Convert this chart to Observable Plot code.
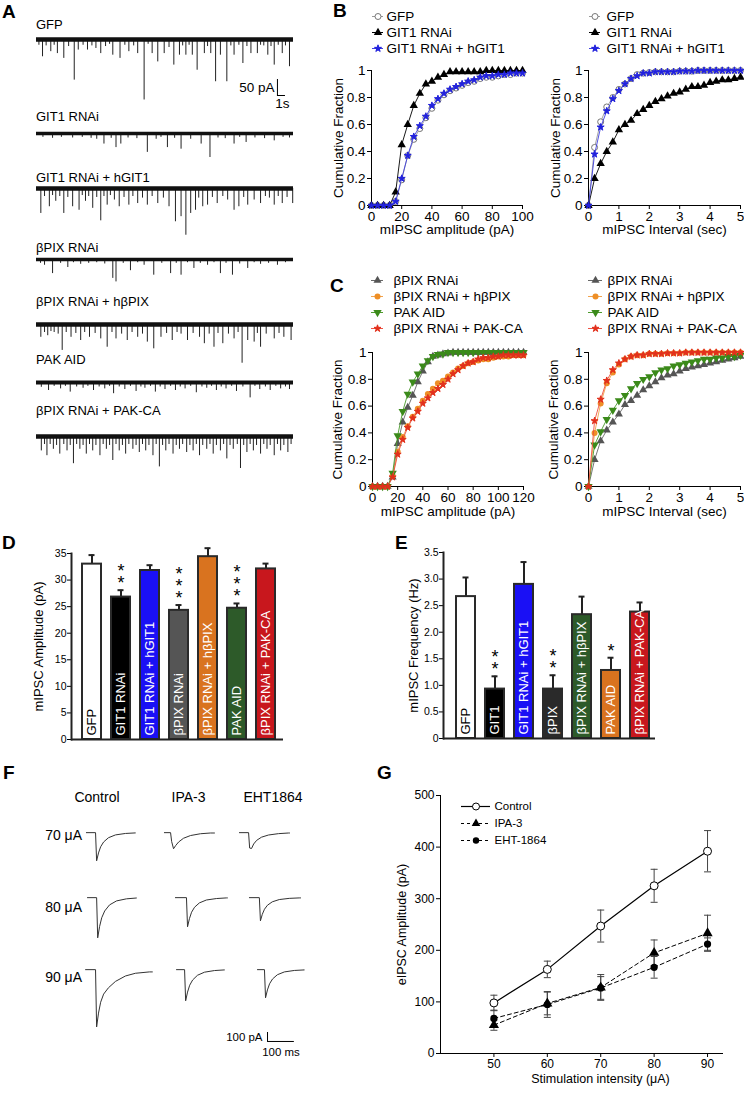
<!DOCTYPE html>
<html><head><meta charset="utf-8">
<script src="https://cdn.jsdelivr.net/npm/d3@7"></script>
<script src="https://cdn.jsdelivr.net/npm/@observablehq/plot@0.6"></script>
<style>
html,body{margin:0;padding:0;background:#fff;}
#fig{position:relative;width:744px;height:1093px;overflow:hidden;background:#fff;}
</style></head><body><div id="fig"></div>
<script>
// ---------------- DATA ----------------
// Panel A: mIPSC events per trace, [time (s), amplitude (pA)]
const aGFP = [[0.3,18],[0.75,54],[1.2,20],[1.78,38],[2.2,18],[2.6,44],[3.4,59],[4.0,22],[4.7,127],[5.2,33],[5.8,18],[6.35,33],[6.9,20],[7.4,28],[8.0,44],[8.6,22],[9.1,15],[9.5,49],[10.4,59],[11.0,18],[11.5,38],[12.1,20],[12.6,44],[13.4,189],[13.9,15],[14.4,44],[15.1,70],[15.9,44],[16.5,25],[17.1,80],[17.8,49],[18.2,20],[18.6,49],[19.0,18],[19.4,49],[20.0,96],[20.9,44],[21.3,22],[21.7,44],[22.3,132],[22.9,49],[23.7,132],[24.2,20],[24.6,49],[25.2,18],[25.7,75],[26.2,22],[26.7,44],[27.5,44],[27.9,18],[28.3,20],[28.8,49],[29.2,22],[29.6,80],[30.1,18],[30.6,44],[31.0,20],[31.5,85]];
const aGIT1 = [[0.8,12],[2.0,15],[3.1,12],[4.5,14],[5.7,12],[6.8,15],[7.5,18],[8.4,33],[9.3,15],[9.9,44],[10.5,33],[11.4,14],[12.5,16],[13.8,59],[14.9,18],[15.5,12],[16.3,44],[17.2,15],[18.0,49],[19.2,18],[20.5,33],[21.6,75],[22.6,14],[23.5,16],[24.6,33],[25.3,12],[26.1,28],[27.2,14],[28.4,16],[29.6,23],[30.7,12],[31.5,14]];
const aGIT1Rescue = [[0.54,78],[1.0,25],[1.6,57],[2.0,22],[2.4,40],[2.9,25],[3.4,78],[3.9,28],[4.5,57],[5.3,68],[5.7,22],[6.1,40],[6.5,25],[7.0,62],[7.5,28],[8.0,101],[8.4,25],[8.8,52],[9.2,22],[9.7,36],[10.3,57],[10.9,28],[11.5,52],[12.0,25],[12.6,47],[13.2,30],[13.8,52],[14.4,25],[15.1,47],[15.8,30],[16.5,57],[17.3,104],[18.0,88],[18.6,146],[19.2,78],[19.8,68],[20.2,30],[20.7,57],[21.3,52],[21.9,28],[22.5,47],[23.2,25],[23.8,36],[24.6,68],[25.2,57],[25.8,28],[26.3,52],[27.1,36],[27.9,47],[28.5,25],[29.0,30],[29.6,52],[30.1,25],[30.6,47],[31.2,28],[31.9,47]];
const aBPIX = [[0.5,12],[1.0,18],[2.0,44],[3.0,12],[3.9,25],[4.6,10],[5.5,15],[6.5,12],[7.5,10],[8.5,14],[9.5,59],[9.9,70],[10.8,12],[11.7,35],[12.6,10],[13.4,18],[14.6,49],[15.6,12],[16.7,44],[17.4,12],[18.0,49],[18.8,10],[19.6,28],[20.4,12],[21.3,18],[22.1,10],[22.9,44],[23.6,12],[24.4,49],[25.3,14],[26.3,28],[27.1,10],[27.9,15],[28.9,12],[30.0,18],[31.0,10]];
const aBPIXRescue = [[0.54,40],[1.0,25],[1.4,35],[1.8,22],[2.2,25],[2.7,30],[3.2,81],[3.7,25],[4.3,40],[4.9,28],[5.5,50],[6.0,25],[6.6,40],[7.3,28],[8.0,45],[8.8,71],[9.4,25],[9.9,45],[10.6,30],[11.3,50],[11.9,25],[12.6,40],[13.2,30],[13.8,55],[14.6,76],[15.5,40],[16.2,28],[16.9,50],[17.5,25],[18.0,30],[18.8,50],[19.5,28],[20.3,40],[20.9,60],[21.5,30],[22.1,71],[22.6,28],[23.2,60],[23.9,30],[24.6,45],[25.1,25],[25.6,121],[26.3,50],[27.1,55],[27.5,28],[27.9,71],[28.6,30],[29.6,45],[30.2,28],[30.8,40],[31.7,50]];
const aPAKAID = [[0.6,15],[1.5,25],[2.2,12],[3.0,20],[3.6,12],[4.2,30],[5.0,14],[5.8,18],[6.4,12],[7.1,25],[7.8,14],[8.5,20],[9.1,12],[9.6,35],[10.3,14],[11.0,22],[11.7,12],[12.4,28],[13.0,14],[13.5,18],[14.2,12],[14.8,30],[15.4,14],[16.0,22],[16.7,12],[17.3,25],[17.9,14],[18.5,20],[19.2,12],[19.9,32],[20.6,14],[21.2,18],[21.8,12],[22.4,25],[23.0,14],[23.6,20],[24.3,12],[24.9,28],[25.7,14],[26.6,48],[27.2,12],[27.8,22],[28.5,14],[29.1,25],[29.8,12],[30.4,20],[31.0,14],[31.5,22]];
const aPAKCA = [[0.6,45],[1.0,25],[1.3,60],[1.7,25],[2.1,40],[2.5,28],[2.9,55],[3.4,25],[3.8,45],[4.2,28],[4.6,85],[5.0,25],[5.4,40],[5.8,28],[6.2,55],[6.6,25],[7.0,45],[7.4,28],[7.9,60],[8.3,25],[8.7,40],[9.1,28],[9.5,75],[9.9,25],[10.3,45],[10.7,28],[11.1,55],[11.5,25],[12.0,40],[12.4,28],[12.8,50],[13.2,25],[13.6,45],[14.0,28],[14.5,60],[14.9,25],[15.3,95],[15.7,28],[16.1,45],[16.5,25],[17.0,55],[17.4,28],[17.8,40],[18.2,25],[18.7,50],[19.1,28],[19.5,45],[19.9,25],[20.3,60],[20.7,28],[21.2,40],[21.6,25],[22.0,55],[22.4,28],[22.9,45],[23.3,25],[23.7,70],[24.1,28],[24.5,40],[25.0,25],[25.4,100],[25.8,28],[26.2,50],[26.6,25],[27.0,45],[27.4,28],[27.9,55],[28.3,25],[28.7,40],[29.1,28],[29.6,60],[30.0,25],[30.4,45],[30.8,28],[31.3,50],[31.7,25]];
const aNames = ["GFP","GIT1 RNAi","GIT1 RNAi + hGIT1","βPIX RNAi","βPIX RNAi + hβPIX","PAK AID","βPIX RNAi + PAK-CA"];
const aScaleBar = {t: 30, t2: 31, top: -125, bottom: -175}; // 50 pA, 1 s

// Panel B: cumulative fractions
const bAmpX = [0,4,8,12,16,20,24,28,32,36,40,44,48,52,56,60,64,68,72,76,80,84,88,92,96,100];
const bAmpGFP = [0,0,0,0,0.03,0.19,0.37,0.49,0.57,0.65,0.72,0.78,0.82,0.85,0.87,0.89,0.91,0.92,0.94,0.95,0.95,0.96,0.97,0.97,0.98,0.98];
const bAmpGIT1 = [0,0,0,0,0.1,0.45,0.6,0.74,0.83,0.9,0.92,0.95,0.97,0.99,0.99,0.99,0.99,0.99,0.99,1,1,1,1,1,1,1];
const bAmpRescue = [0,0,0,0,0.03,0.2,0.37,0.51,0.59,0.66,0.74,0.79,0.83,0.86,0.88,0.9,0.92,0.93,0.95,0.96,0.96,0.97,0.97,0.98,0.98,0.98];
const intX = [0,0.2,0.4,0.6,0.8,1,1.2,1.4,1.6,1.8,2,2.2,2.4,2.6,2.8,3,3.2,3.4,3.6,3.8,4,4.2,4.4,4.6,4.8,5];
const bIntGFP = [0,0.43,0.62,0.73,0.8,0.86,0.9,0.94,0.97,0.98,0.985,0.99,0.99,0.99,0.99,0.995,0.995,0.995,1,1,1,1,1,1,1,1];
const bIntGIT1 = [0,0.2,0.31,0.4,0.47,0.56,0.6,0.63,0.68,0.71,0.74,0.77,0.79,0.81,0.83,0.84,0.86,0.88,0.88,0.89,0.91,0.92,0.93,0.93,0.94,0.95];
const bIntRescue = [0,0.38,0.58,0.7,0.79,0.85,0.9,0.94,0.96,0.98,0.98,0.99,0.99,0.99,0.99,0.995,0.995,0.995,1,1,1,1,1,1,1,1];

// Panel C: cumulative fractions
const cAmpX = [0,4,8,12,16,20,24,28,32,36,40,44,48,52,56,60,64,68,72,76,80,84,88,92,96,100,104,108,112,116,120];
const cAmpBPIX = [0,0,0,0,0.07,0.32,0.48,0.59,0.68,0.78,0.86,0.93,0.97,0.98,0.99,0.995,1,1,1,1,1,1,1,1,1,1,1,1,1,1,1];
const cAmpRescue = [0,0,0,0,0.08,0.26,0.37,0.45,0.52,0.58,0.64,0.69,0.73,0.77,0.79,0.82,0.85,0.88,0.9,0.92,0.93,0.94,0.95,0.95,0.96,0.97,0.97,0.97,0.98,0.98,0.98];
const cAmpAID = [0,0,0,0,0.1,0.38,0.56,0.69,0.78,0.84,0.9,0.94,0.97,0.985,0.99,1,1,1,1,1,1,1,1,1,1,1,1,1,1,1,1];
const cAmpCA = [0,0,0,0,0.07,0.24,0.35,0.44,0.51,0.56,0.62,0.66,0.7,0.73,0.76,0.8,0.84,0.87,0.9,0.92,0.93,0.95,0.96,0.96,0.97,0.97,0.98,0.98,0.98,0.98,0.98];
const cIntBPIX = [0,0.2,0.34,0.42,0.48,0.54,0.61,0.64,0.68,0.72,0.75,0.78,0.81,0.83,0.84,0.86,0.88,0.89,0.9,0.91,0.92,0.93,0.94,0.95,0.96,0.97];
const cIntRescue = [0,0.4,0.62,0.77,0.85,0.91,0.95,0.97,0.98,0.98,0.99,0.99,0.99,0.995,0.995,0.995,1,1,1,1,1,1,1,1,1,1];
const cIntAID = [0,0.31,0.41,0.5,0.57,0.64,0.68,0.73,0.77,0.8,0.82,0.85,0.87,0.88,0.9,0.91,0.92,0.93,0.94,0.95,0.95,0.96,0.96,0.97,0.97,0.98];
const cIntCA = [0,0.49,0.65,0.79,0.87,0.92,0.95,0.97,0.98,0.98,0.99,0.99,0.99,0.995,0.995,0.995,1,1,1,1,1,1,1,1,1,1];

// Panel D: mIPSC amplitude (pA)
const dCats = ["GFP","GIT1 RNAi","GIT1 RNAi + hGIT1","βPIX RNAi","βPIX RNAi + hβPIX","PAK AID","βPIX RNAi + PAK-CA"];
const dMean = [33.0, 26.8, 31.8, 24.3, 34.4, 24.7, 32.1];
const dSem = [1.7, 1.3, 1.0, 1.0, 1.6, 0.9, 1.0];
const dStars = [0, 2, 0, 3, 0, 3, 0];
// Panel E: mIPSC frequency (Hz)
const eCats = ["GFP","GIT1","GIT1 RNAi + hGIT1","βPIX","βPIX RNAi + hβPIX","PAK AID","βPIX RNAi + PAK-CA"];
const eMean = [2.67, 0.93, 2.9, 0.93, 2.33, 1.28, 2.38];
const eSem = [0.36, 0.24, 0.42, 0.26, 0.34, 0.24, 0.18];
const eStars = [0, 2, 0, 2, 0, 1, 0];

// Panel F: evoked IPSC traces (ms, pA); values at fOffsets after onset
const fOffsets = [0, 4, 11, 19, 30, 48, 74, 111, 148, 200];
const fConds = ["Control", "IPA-3", "EHT1864"];
const fStims = ["70 μA", "80 μA", "90 μA"];
const fControl70 = {start: -3, onset: 31, end: 179, v: [0,-311,-224,-156,-103,-56,-25,-9,-3,0]};
const fControl80 = {start: 1, onset: 35, end: 183, v: [0,-444,-320,-222,-147,-80,-36,-13,-4,0]};
const fControl90 = {start: -6, onset: 31, end: 242, v: [0,-633,-480,-360,-270,-200,-130,-70,-40,-25]};
const fIPA70 = {start: -3, onset: 20, end: 183, v: [0,-98,-178,-142,-103,-62,-32,-12,-4,0]};
const fIPA80 = {start: 38, onset: 79, end: 231, v: [0,-322,-232,-161,-106,-58,-26,-10,-3,0]};
const fIPA90 = {start: 42, onset: 72, end: 220, v: [0,-344,-248,-172,-114,-62,-28,-10,-3,0]};
const fEHT70 = {start: -14, onset: 20, end: 172, v: [0,-170,-175,-125,-85,-50,-26,-11,-4,-1]};
const fEHT80 = {start: 23, onset: 60, end: 213, v: [0,-256,-184,-128,-84,-46,-21,-8,-3,0]};
const fEHT90 = {start: 53, onset: 79, end: 227, v: [0,-311,-224,-156,-103,-56,-25,-9,-3,0]};
const fScale = {ms: 100, pA: 100};

// Panel G: eIPSC amplitude (pA)
const gStim = [50, 60, 70, 80, 90];
const gControl = [98, 163, 247, 325, 392];
const gControlErr = [15, 16, 31, 32, 40];
const gIPA = [55, 97, 128, 195, 233];
const gIPAErr = [10, 22, 25, 25, 35];
const gEHT = [68, 95, 127, 167, 212];
const gEHTErr = [16, 25, 22, 21, 12];

// ---------------- HELPERS ----------------
const fig = document.getElementById("fig");
const FONT = "'Liberation Sans', Arial, Helvetica, sans-serif";
function place(el, left, top) {
  el.style.position = "absolute";
  el.style.left = left + "px";
  el.style.top = top + "px";
  fig.appendChild(el);
  return el;
}
function htmlText(text, x, y, size, anchor = "start", weight = "normal") {
  const d = document.createElement("div");
  d.textContent = text;
  const tx = anchor === "start" ? 0 : anchor === "middle" ? -50 : -100;
  d.style.cssText = `position:absolute;left:${x}px;top:${y}px;font-family:${FONT};font-size:${size}px;font-weight:${weight};line-height:1;white-space:nowrap;color:#000;transform:translate(${tx}%,-50%);`;
  fig.appendChild(d);
}
const st = (size) => ({fontFamily: FONT, fontSize: size + "px", background: "transparent", overflow: "visible", color: "#000"});
const triangleDown = {draw(ctx, size) { const y = -Math.sqrt(size / (Math.sqrt(3) * 3)); ctx.moveTo(0, -y * 2); ctx.lineTo(-Math.sqrt(3) * y, y); ctx.lineTo(Math.sqrt(3) * y, y); ctx.closePath(); }};
const hCap = {draw(ctx, size) { const w = Math.sqrt(size / Math.PI); ctx.moveTo(-w, 0); ctx.lineTo(w, 0); }};
const fmtFrac = d => d === 0 ? "0" : d === 1 ? "1" : d.toFixed(1);

// ---------------- PANEL LETTERS ----------------
[["A", 2, 11], ["B", 333, 10], ["C", 330, 285], ["D", 2, 542], ["E", 395, 542], ["F", 3, 772], ["G", 377, 772]]
  .forEach(([t, x, y]) => htmlText(t, x, y, 19, "start", "bold"));

// ---------------- PANEL A ----------------
const aEvents = [aGFP, aGIT1, aGIT1Rescue, aBPIX, aBPIXRescue, aPAKAID, aPAKCA];
const aBaselines = [39, 133, 188, 259, 324, 382, 436];
const aLabelY = [24, 116, 177, 247, 301, 359, 410];
const aBand = [4.5, 3.5, 4.5, 3.5, 4.5, 4, 4.5];
aEvents.forEach((ev, k) => {
  htmlText(aNames[k], 36, aLabelY[k], 13);
  const marks = [
    Plot.ruleX(ev, {x: d => d[0], y1: 0, y2: d => -d[1], stroke: "#222", strokeWidth: 1}),
    Plot.ruleY([0], {stroke: "#111", strokeWidth: aBand[k]})
  ];
  if (k === 0) {
    const sb = aScaleBar;
    marks.push(
      Plot.ruleX([sb], {x: "t", y1: "top", y2: "bottom", stroke: "#000", strokeWidth: 1}),
      Plot.ruleY([sb], {y: "bottom", x1: "t", x2: "t2", stroke: "#000", strokeWidth: 1}),
      Plot.text([sb], {x: "t", y: d => (d.top + d.bottom) / 2, text: () => "50 pA", textAnchor: "end", dx: -3, fontSize: 13.5}),
      Plot.text([sb], {x: d => (d.t + d.t2) / 2, y: "bottom", text: () => "1s", dy: 8, dx: 1, fontSize: 13.5})
    );
  }
  const p = Plot.plot({
    width: 257, height: 108, margin: 0, style: st(13),
    x: {domain: [0, 32], axis: null}, y: {domain: [-262.5, 75], axis: null}, marks
  });
  place(p, 36, aBaselines[k] - 24);
});

// ---------------- PANELS B & C ----------------
function cumPlot({xs, series, xDomain, xTicks, xLabel, frameLeft, frameTop, frameW, frameH, titleDx, labelDy}) {
  const ml = 48, mr = 12, mt = 8, mb = 36;
  const marks = [];
  for (const s of series) {
    const data = xs.map((x, i) => ({x, y: s.values[i]}));
    marks.push(Plot.line(data, {x: "x", y: "y", stroke: s.line, strokeWidth: 0.9}));
    marks.push(Plot.dot(data, {x: "x", y: "y", symbol: s.symbol, r: s.r, fill: s.fill, stroke: s.stroke || "none", strokeWidth: s.sw || 1}));
  }
  marks.push(Plot.text([xLabel], {frameAnchor: "bottom", textAnchor: "middle", dy: labelDy, text: d => d, fontSize: 13.5}));
  marks.push(Plot.text(["Cumulative Fraction"], {frameAnchor: "left", textAnchor: "middle", rotate: -90, dx: titleDx, text: d => d, fontSize: 13.5}));
  const p = Plot.plot({
    width: ml + frameW + mr, height: mt + frameH + mb,
    marginLeft: ml, marginRight: mr, marginTop: mt, marginBottom: mb, style: st(13.5),
    x: {domain: xDomain, ticks: xTicks, tickFormat: d => String(d), tickSize: 4, tickPadding: 2, line: true, label: null},
    y: {domain: [0, 1], ticks: [0, 0.2, 0.4, 0.6, 0.8, 1], tickFormat: fmtFrac, tickSize: 4, tickPadding: 2, line: true, label: null},
    marks
  });
  place(p, frameLeft - ml, frameTop - mt);
}
function legendPlot(items, {x1, x2, textX, y0, step, fontSize}) {
  const names = items.map(d => d.name);
  const mt = 10, mb = 10, mr = 230;
  const marks = [];
  for (const it of items) {
    marks.push(Plot.ruleY([it.name], {y: d => d, x1: 0, x2: 1, stroke: it.line, strokeWidth: it.lw || 1, strokeDasharray: it.dash}));
    marks.push(Plot.dot([it.name], {y: d => d, x: 0.5, symbol: it.symbol, r: it.r, fill: it.fill, stroke: it.stroke || "none", strokeWidth: it.sw || 1}));
  }
  marks.push(Plot.text(names, {y: d => d, x: 1, text: d => d, textAnchor: "start", dx: textX - x2, fontSize}));
  const p = Plot.plot({
    width: (x2 - x1) + mr, height: mt + step * (names.length - 1) + mb,
    marginLeft: 0, marginRight: mr, marginTop: mt, marginBottom: mb, style: st(fontSize),
    x: {domain: [0, 1], axis: null}, y: {type: "point", domain: names, padding: 0, axis: null}, marks
  });
  place(p, x1, y0 - mt);
}
const sGFP = {name: "GFP", line: "#999", symbol: "circle", r: 3, fill: "white", stroke: "#777"};
const sGIT1 = {name: "GIT1 RNAi", line: "#000", symbol: "triangle", r: 3.1, fill: "#000"};
const sGIT1R = {name: "GIT1 RNAi + hGIT1", line: "#4040e0", symbol: "star", r: 2.2, fill: "#2222dd", stroke: "#2222dd", sw: 1};
const sBPIX = {name: "βPIX RNAi", line: "#666", symbol: "triangle", r: 3, fill: "#555"};
const sBPIXR = {name: "βPIX RNAi + hβPIX", line: "#f2a24a", symbol: "circle", r: 3, fill: "#ee8f26"};
const sAID = {name: "PAK AID", line: "#4a9a2a", symbol: triangleDown, r: 3.1, fill: "#3b8a1a"};
const sCA = {name: "βPIX RNAi + PAK-CA", line: "#ee5040", symbol: "star", r: 2.2, fill: "#e2301c", stroke: "#e2301c", sw: 1};

cumPlot({xs: bAmpX, xDomain: [0, 100], xTicks: [0, 20, 40, 60, 80, 100], xLabel: "mIPSC amplitude (pA)",
  series: [{...sGFP, values: bAmpGFP}, {...sGIT1, values: bAmpGIT1}, {...sGIT1R, values: bAmpRescue}],
  frameLeft: 371, frameTop: 70, frameW: 151, frameH: 135, titleDx: -33, labelDy: 28});
cumPlot({xs: intX, xDomain: [0, 5], xTicks: [0, 1, 2, 3, 4, 5], xLabel: "mIPSC Interval (sec)",
  series: [{...sGFP, values: bIntGFP}, {...sGIT1, values: bIntGIT1}, {...sGIT1R, values: bIntRescue}],
  frameLeft: 588, frameTop: 70, frameW: 152, frameH: 135, titleDx: -33, labelDy: 28});
legendPlot([sGFP, sGIT1, sGIT1R], {x1: 372, x2: 383, textX: 386, y0: 15, step: 16.5, fontSize: 13.5});
legendPlot([sGFP, sGIT1, sGIT1R], {x1: 589, x2: 600, textX: 606, y0: 15, step: 16.5, fontSize: 13.5});

cumPlot({xs: cAmpX, xDomain: [0, 120], xTicks: [0, 20, 40, 60, 80, 100, 120], xLabel: "mIPSC amplitude (pA)",
  series: [{...sBPIX, values: cAmpBPIX}, {...sBPIXR, values: cAmpRescue}, {...sAID, values: cAmpAID}, {...sCA, values: cAmpCA}],
  frameLeft: 372, frameTop: 352, frameW: 151, frameH: 134, titleDx: -35, labelDy: 29});
cumPlot({xs: intX, xDomain: [0, 5], xTicks: [0, 1, 2, 3, 4, 5], xLabel: "mIPSC Interval (sec)",
  series: [{...sBPIX, values: cIntBPIX}, {...sBPIXR, values: cIntRescue}, {...sAID, values: cIntAID}, {...sCA, values: cIntCA}],
  frameLeft: 588, frameTop: 352, frameW: 152, frameH: 134, titleDx: -35, labelDy: 29});
legendPlot([sBPIX, sBPIXR, sAID, sCA], {x1: 371, x2: 383, textX: 393, y0: 279, step: 16.7, fontSize: 13.5});
legendPlot([sBPIX, sBPIXR, sAID, sCA], {x1: 588, x2: 602, textX: 607, y0: 279, step: 16.7, fontSize: 13.5});

// ---------------- PANELS D & E ----------------
function barPlot({cats, means, sems, stars, fills, textFills, yDomain, yTicks, yFormat, yTitle, left, frameTop, frameBottom, align, pOuter, titleDx}) {
  const data = cats.map((c, i) => ({c, m: means[i], hi: means[i] + sems[i], s: stars[i], fill: fills[i], tf: textFills[i]}));
  const ml = 71, mr = 10, mt = 13, mb = 8;
  const p = Plot.plot({
    width: ml + 212 + mr, height: mt + (frameBottom - frameTop) + mb,
    marginLeft: ml, marginRight: mr, marginTop: mt, marginBottom: mb, style: st(10.5),
    color: {type: "identity"},
    x: {type: "band", domain: cats, paddingInner: 0.34, paddingOuter: pOuter, align, axis: null},
    y: {domain: yDomain, ticks: yTicks, tickFormat: yFormat, tickSize: 4, tickPadding: 1, label: null},
    marks: [
      Plot.ruleX(data, {x: "c", y1: "m", y2: "hi", stroke: "#222", strokeWidth: 2}),
      Plot.tickY(data, {x: "c", y: "hi", stroke: "#222", strokeWidth: 2, insetLeft: 6.5, insetRight: 6.5}),
      Plot.barY(data, {x: "c", y: "m", fill: "fill", stroke: "#2a2a2a", strokeWidth: 2}),
      Plot.text(data, {x: "c", y: 0, text: "c", rotate: -90, textAnchor: "start", lineAnchor: "middle", dy: -4, fill: "tf", fontSize: 13}),
      Plot.text(data.filter(d => d.s > 0), {x: "c", y: "hi", text: d => Array(d.s).fill("*").join("\n"), lineAnchor: "bottom", lineHeight: 0.68, dy: -1, fontSize: 18}),
      Plot.frame({anchor: "left", stroke: "#222", strokeWidth: 2}),
      Plot.ruleY([0], {stroke: "#222", strokeWidth: 2}),
      Plot.text([yTitle], {frameAnchor: "left", textAnchor: "middle", rotate: -90, dx: titleDx, text: d => d, fontSize: 13})
    ]
  });
  place(p, left, frameTop - mt);
}
barPlot({cats: dCats, means: dMean, sems: dSem, stars: dStars,
  fills: ["#ffffff", "#000000", "#1a10f5", "#555555", "#d9731f", "#2d5a29", "#c8171d"],
  textFills: ["#000", "#fff", "#fff", "#fff", "#fff", "#fff", "#fff"],
  yDomain: [0, 35], yTicks: [0, 5, 10, 15, 20, 25, 30, 35], yFormat: d => String(d), yTitle: "mIPSC Amplitude (pA)",
  left: 0, frameTop: 553, frameBottom: 739, align: 0.58, pOuter: 0.25, titleDx: -33});
barPlot({cats: eCats, means: eMean, sems: eSem, stars: eStars,
  fills: ["#ffffff", "#000000", "#1a10f5", "#2a2a2a", "#2d5a29", "#d9731f", "#c8171d"],
  textFills: ["#000", "#fff", "#fff", "#fff", "#fff", "#fff", "#fff"],
  yDomain: [0, 3.5], yTicks: [0, 0.5, 1, 1.5, 2, 2.5, 3, 3.5], yFormat: d => d === 0 ? "0" : d.toFixed(1), yTitle: "mIPSC Frequency (Hz)",
  left: 372, frameTop: 552, frameBottom: 738, align: 0.71, pOuter: 0.26, titleDx: -30});

// ---------------- PANEL F ----------------
[["Control", 97], ["IPA-3", 188.5], ["EHT1864", 273]].forEach(([t, x]) => htmlText(t, x, 797, 14, "middle"));
const fRowY = [832, 897, 969];
const fColX = [84, 162, 240];
fStims.forEach((t, r) => htmlText(t, 82, [835, 907, 977][r], 14, "end"));
const fTraces = [[fControl70, fIPA70, fEHT70], [fControl80, fIPA80, fEHT80], [fControl90, fIPA90, fEHT90]];
fTraces.forEach((row, r) => row.forEach((tr, c) => {
  const pts = [{t: tr.start, v: 0}];
  fOffsets.forEach((o, i) => { if (tr.onset + o <= tr.end) pts.push({t: tr.onset + o, v: tr.v[i]}); });
  pts.push({t: tr.end, v: pts[pts.length - 1].v});
  const p = Plot.plot({
    width: 78, height: 75, marginLeft: 4, marginRight: 4, marginTop: 4, marginBottom: 4, style: st(11),
    x: {domain: [-10, 250], axis: null}, y: {domain: [-650, 90], axis: null},
    marks: [Plot.line(pts, {x: "t", y: "v", stroke: "#333", strokeWidth: 1})]
  });
  place(p, fColX[c] - 4, fRowY[r] - 4 - 90 * 67 / 740);
}));
{
  const sb = [fScale];
  const p = Plot.plot({
    width: 26.9, height: 9, margin: 0, style: st(11.5),
    x: {domain: [0, 100], axis: null}, y: {domain: [0, 100], axis: null},
    marks: [
      Plot.ruleX(sb, {x: 0, y1: 0, y2: d => d.pA, stroke: "#000"}),
      Plot.ruleY(sb, {y: 0, x1: 0, x2: d => d.ms, stroke: "#000"}),
      Plot.text(sb, {x: 0, y: d => d.pA / 2, text: d => d.pA + " pA", textAnchor: "end", dx: -5, fontSize: 11.5}),
      Plot.text(sb, {x: d => d.ms / 2, y: 0, text: d => d.ms + " ms", dy: 11, fontSize: 11.5})
    ]
  });
  place(p, 267, 1032);
}

// ---------------- PANEL G ----------------
{
  const mk = (vals, errs) => gStim.map((s, i) => ({s, m: vals[i], lo: vals[i] - errs[i], hi: vals[i] + errs[i]}));
  const ctrl = mk(gControl, gControlErr), ipa = mk(gIPA, gIPAErr), eht = mk(gEHT, gEHTErr);
  const marks = [];
  for (const d of [eht, ipa, ctrl]) {
    marks.push(Plot.ruleX(d, {x: "s", y1: "lo", y2: "hi", stroke: "#444", strokeWidth: 1}));
    marks.push(Plot.dot(d, {x: "s", y: "lo", symbol: hCap, r: 3.5, fill: "none", stroke: "#444", strokeWidth: 1}));
    marks.push(Plot.dot(d, {x: "s", y: "hi", symbol: hCap, r: 3.5, fill: "none", stroke: "#444", strokeWidth: 1}));
  }
  marks.push(Plot.line(eht, {x: "s", y: "m", stroke: "#000", strokeWidth: 1, strokeDasharray: "4,3"}));
  marks.push(Plot.line(ipa, {x: "s", y: "m", stroke: "#000", strokeWidth: 1, strokeDasharray: "4,3"}));
  marks.push(Plot.line(ctrl, {x: "s", y: "m", stroke: "#000", strokeWidth: 1.2}));
  marks.push(Plot.dot(eht, {x: "s", y: "m", symbol: "circle", r: 3.6, fill: "#000"}));
  marks.push(Plot.dot(ipa, {x: "s", y: "m", symbol: "triangle", r: 3.8, fill: "#000"}));
  marks.push(Plot.dot(ctrl, {x: "s", y: "m", symbol: "circle", r: 4, fill: "#fff", stroke: "#000", strokeWidth: 1}));
  marks.push(Plot.text(["Stimulation intensity (μA)"], {frameAnchor: "bottom", textAnchor: "middle", dy: 29, dx: 19, text: d => d, fontSize: 12.5}));
  marks.push(Plot.text(["eIPSC Amplitude (pA)"], {frameAnchor: "left", textAnchor: "middle", rotate: -90, dx: -39, text: d => d, fontSize: 12.5}));
  const p = Plot.plot({
    width: 374, height: 308, marginLeft: 70, marginRight: 22, marginTop: 10, marginBottom: 40, style: st(12),
    x: {domain: [40, 92.8], ticks: gStim, tickSize: 4, tickPadding: 2, line: true, label: null},
    y: {domain: [0, 500], ticks: [0, 100, 200, 300, 400, 500], tickSize: 4, tickPadding: 2, line: true, label: null},
    marks
  });
  place(p, 370, 785);
  legendPlot([
    {name: "Control", line: "#000", symbol: "circle", r: 3.5, fill: "#fff", stroke: "#000", lw: 1.2},
    {name: "IPA-3", line: "#000", dash: "3,3", symbol: "triangle", r: 3.2, fill: "#000"},
    {name: "EHT-1864", line: "#000", dash: "3,3", symbol: "circle", r: 3.2, fill: "#000"}
  ], {x1: 461, x2: 490, textX: 494, y0: 806, step: 17, fontSize: 11.5});
}
</script></body></html>
